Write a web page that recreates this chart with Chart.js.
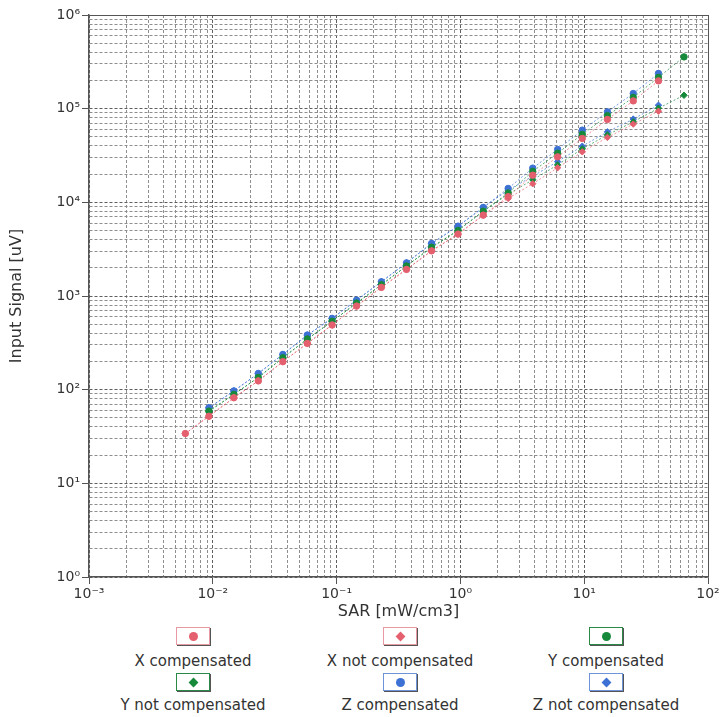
<!DOCTYPE html>
<html>
<head>
<meta charset="utf-8">
<script src="https://cdn.jsdelivr.net/npm/chart.js@4.4.0/dist/chart.umd.min.js"></script>
<style>
html,body{margin:0;padding:0;background:#fff;}
#wrap{position:relative;width:726px;height:717px;overflow:hidden;font-family:"DejaVu Sans",sans-serif;color:#333;}
#cv{position:absolute;left:0;top:0;}
.box{position:absolute;width:32px;height:16px;background:#fff;box-shadow:1px 1px 0 #555;}
.mk{position:absolute;left:50%;top:50%;width:9px;height:9px;margin:-4.5px 0 0 -4.5px;}
.lab{position:absolute;white-space:nowrap;font-size:15px;line-height:18px;transform:translateX(-50%);color:#333;}
</style>
</head>
<body>
<div id="wrap">
<canvas id="cv" width="726" height="626"></canvas>
<div id="legend"></div>
</div>
<script>
// ---- data ----
const SAR = [0.006, 0.0093, 0.0148, 0.0233, 0.0368, 0.058, 0.092, 0.145, 0.23, 0.367, 0.585, 0.957, 1.53, 2.43, 3.84, 6.1, 9.65, 15.4, 24.9, 39.8, 64];
const X_COMP    = [34, 52, 82, 124, 199, 312, 490, 780, 1236, 1923, 3035, 4580, 7300, 11500, 19500, 30600, 48100, 76700, 121000, 198000, null];
const X_NOTCOMP = [34, 52, 82, 124, 199, 312, 490, 780, 1236, 1923, 3035, 4580, 7300, 11000, 15800, 23400, 34600, 49300, 68400, 94000, null];
const Y_COMP    = [null, 59, 89, 135, 219, 347, 537, 841, 1318, 2090, 3310, 5010, 8040, 12600, 21400, 33500, 53100, 84100, 132000, 216000, 357000];
const Y_NOTCOMP = [null, 59, 89, 135, 219, 347, 537, 841, 1318, 2090, 3310, 5010, 8040, 12200, 17400, 25100, 37200, 52500, 72400, 101000, 139000];
const Z_COMP    = [null, 64, 97, 149, 238, 383, 577, 904, 1420, 2260, 3640, 5570, 8830, 14070, 23200, 36700, 59000, 92500, 145000, 238000, null];
const Z_NOTCOMP = [null, 64, 97, 149, 238, 383, 577, 904, 1420, 2260, 3640, 5570, 8830, 13500, 19000, 27200, 39800, 56600, 77500, 109000, null];

const SERIES_LABELS = ['X compensated', 'X not compensated', 'Y compensated', 'Y not compensated', 'Z compensated', 'Z not compensated'];
const X_DECADES = [-3, -2, -1, 0, 1, 2];
const Y_DECADES = [0, 1, 2, 3, 4, 5, 6];
const MINOR_STEPS = [2, 3, 4, 5, 6, 7, 8, 9];

// ---- styling ----
const RED = '#e4606e', GREEN = '#168a3a', BLUE = '#3d72d4';
const SUP = {'-':'\u207B','0':'\u2070','1':'\u00B9','2':'\u00B2','3':'\u00B3','4':'\u2074','5':'\u2075','6':'\u2076','7':'\u2077','8':'\u2078','9':'\u2079'};
function supText(n){ return String(n).split('').map(c => SUP[c]).join(''); }

function pts(arr){ return SAR.map((x,i) => ({x: x, y: arr[i]})).filter(p => p.y !== null); }

function buildTicks(decades){
  const t = [];
  for (let i = 0; i < decades.length; i++) {
    const d = decades[i];
    t.push({value: Math.pow(10, d)});
    if (i < decades.length - 1) MINOR_STEPS.forEach(m => t.push({value: m * Math.pow(10, d)}));
  }
  return t;
}
function isDecade(v){ const l = Math.log10(v); return Math.abs(l - Math.round(l)) < 1e-9; }

function ds(label, arr, color, style){
  return {
    label: label, data: pts(arr),
    borderColor: color + 'b0', backgroundColor: color,
    pointBorderColor: color, pointBackgroundColor: color,
    pointStyle: style, pointRadius: 3.2, pointHoverRadius: 3.2,
    borderWidth: 1, borderDash: [2, 2], showLine: true, tension: 0, fill: false
  };
}

const datasets = [
  ds(SERIES_LABELS[0], X_COMP, RED, 'circle'),
  ds(SERIES_LABELS[1], X_NOTCOMP, RED, 'rectRot'),
  ds(SERIES_LABELS[2], Y_COMP, GREEN, 'circle'),
  ds(SERIES_LABELS[3], Y_NOTCOMP, GREEN, 'rectRot'),
  ds(SERIES_LABELS[4], Z_COMP, BLUE, 'circle'),
  ds(SERIES_LABELS[5], Z_NOTCOMP, BLUE, 'rectRot')
];

function axisCommon(decades, min, max){
  return {
    type: 'logarithmic', min: min, max: max,
    afterBuildTicks: s => { s.ticks = buildTicks(decades); },
    ticks: {
      autoSkip: false, maxRotation: 0, padding: 2,
      font: {family: 'DejaVu Sans', size: 14}, color: '#333',
      callback: function(v){ return isDecade(v) ? '10' + supText(Math.round(Math.log10(v))) : ''; }
    },
    grid: {
      drawOnChartArea: true, drawTicks: true, tickLength: 7, lineWidth: 1,
      color: c => {
        if (!c.tick) return '#999';
        const v = c.tick.value;
        if (Math.abs(v - max) / max < 1e-9) return '#555';
        return isDecade(v) ? '#5e5e5e' : '#8e8e8e';
      },
      tickColor: c => (c.tick && isDecade(c.tick.value)) ? '#555' : 'rgba(0,0,0,0)'
    },
    border: {
      display: true, color: '#555', width: 1.5,
      dash: c => (c.tick && Math.abs(c.tick.value - max) / max < 1e-9) ? [] : [3, 2]
    }
  };
}

const xAxis = axisCommon(X_DECADES, 1e-3, 1e2);
xAxis.position = 'bottom';
xAxis.title = {display: true, text: 'SAR [mW/cm3]', font: {family: 'DejaVu Sans', size: 16}, color: '#333', padding: {top: 0, bottom: 5}};
xAxis.afterFit = s => { s.height = 49; };

const yAxis = axisCommon(Y_DECADES, 1, 1e6);
yAxis.position = 'left';
yAxis.title = {display: true, text: 'Input Signal [uV]', font: {family: 'DejaVu Sans', size: 16}, color: '#333', padding: {top: 7, bottom: 0}};
yAxis.afterFit = s => { s.width = 89; };

const chart = new Chart(document.getElementById('cv'), {
  type: 'scatter',
  data: {datasets: datasets},
  options: {
    responsive: false, animation: false,
    layout: {padding: {left: 0, top: 15, right: 18, bottom: 0}},
    plugins: {legend: {display: false}, tooltip: {enabled: false}},
    scales: {x: xAxis, y: yAxis}
  }
});

// ---- HTML legend built from the chart's datasets ----
const COLS = [193, 400, 606];
const BOX_TOP = [627, 673];
const LAB_TOP = [652, 696];
const BOX_BORDER = {};
BOX_BORDER[RED] = '#e79aa4'; BOX_BORDER[GREEN] = '#2a8a45'; BOX_BORDER[BLUE] = '#6d93d8';
const leg = document.getElementById('legend');
chart.data.datasets.forEach((d, i) => {
  const col = i % 3, row = Math.floor(i / 3);
  const box = document.createElement('div');
  box.className = 'box';
  box.style.left = (COLS[col] - 17) + 'px';
  box.style.top = BOX_TOP[row] + 'px';
  box.style.border = '1px solid ' + BOX_BORDER[d.pointBackgroundColor];
  const mk = document.createElement('div');
  mk.className = 'mk';
  mk.style.background = d.pointBackgroundColor;
  if (d.pointStyle === 'circle') { mk.style.borderRadius = '50%'; }
  else { mk.style.width = '7px'; mk.style.height = '7px'; mk.style.margin = '-3.5px 0 0 -3.5px'; mk.style.transform = 'rotate(45deg)'; }
  box.appendChild(mk);
  leg.appendChild(box);
  const lab = document.createElement('div');
  lab.className = 'lab';
  lab.style.left = COLS[col] + 'px';
  lab.style.top = LAB_TOP[row] + 'px';
  lab.textContent = d.label;
  leg.appendChild(lab);
});
</script>
</body>
</html>
